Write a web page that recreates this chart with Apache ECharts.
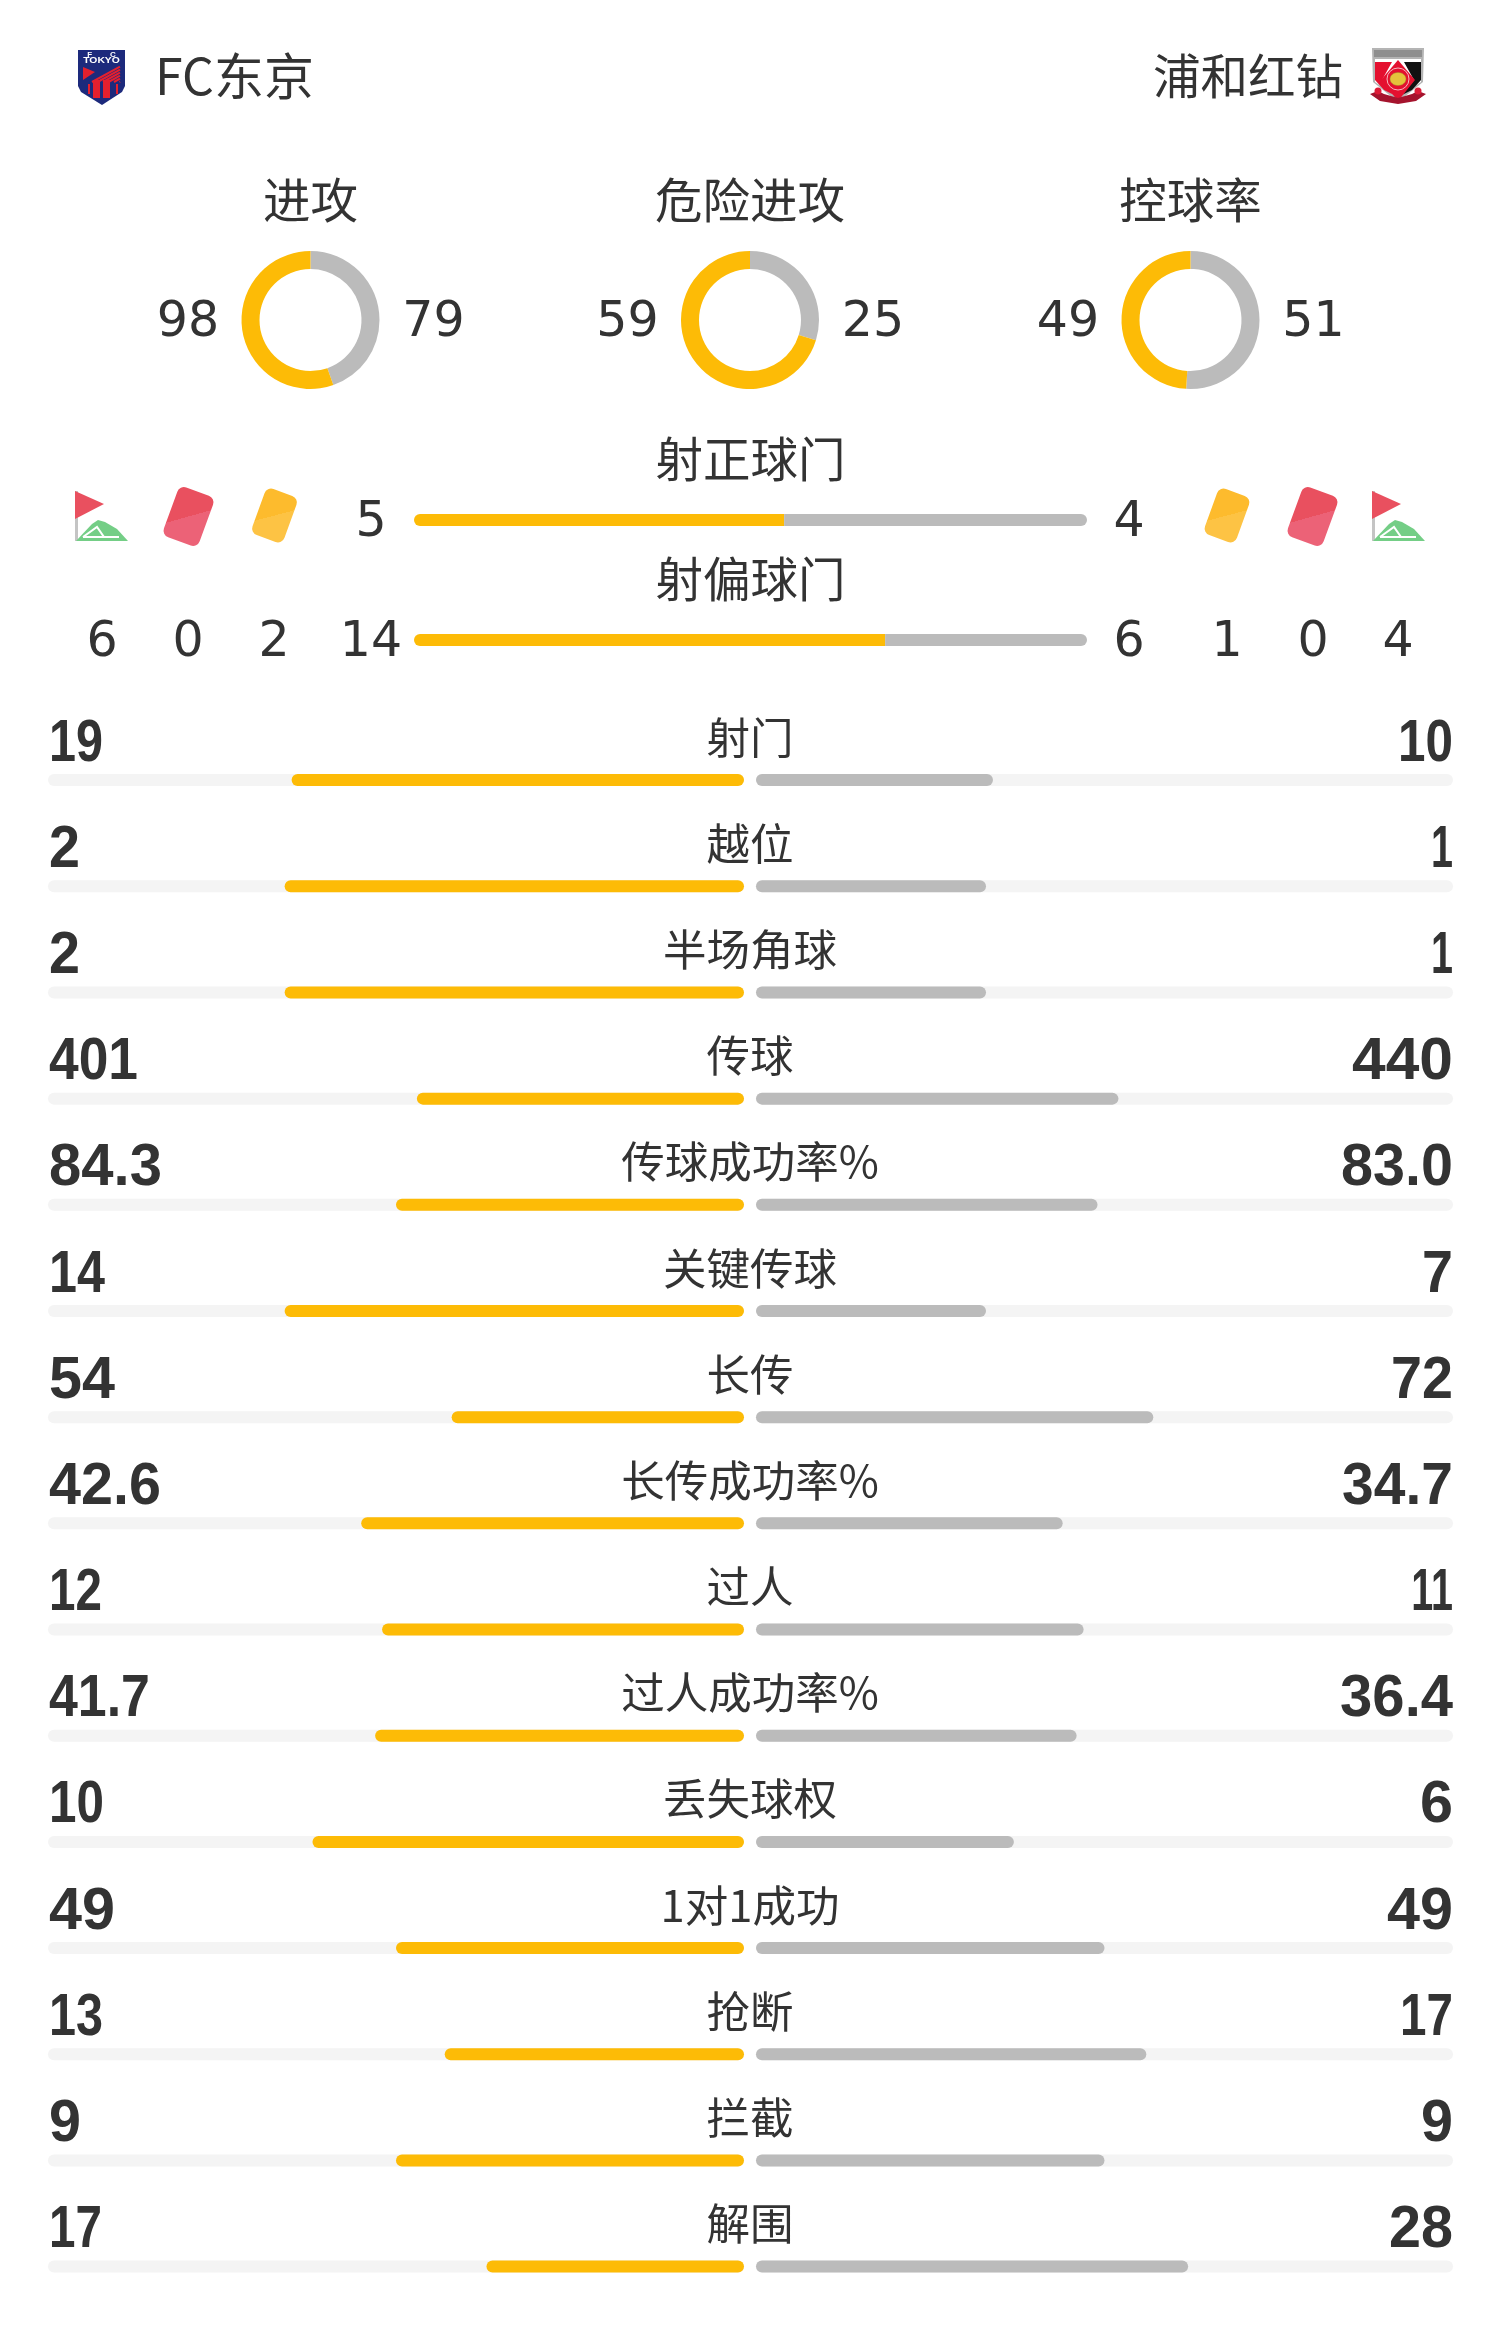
<!DOCTYPE html>
<html><head><meta charset="utf-8">
<style>html,body{margin:0;padding:0;background:#fff}#c{width:1500px;height:2350px}</style>
<script src="https://cdn.jsdelivr.net/npm/echarts@6/dist/echarts.min.js"></script>
</head><body><div id="c"></div>
<script>
const homeTeam = 'FC东京';
const awayTeam = '浦和红钻';
const donutNames = ['进攻', '危险进攻', '控球率'];
const donutHome = [98, 59, 49];
const donutAway = [79, 25, 51];
const shotNames = ['射正球门', '射偏球门'];
const shotHome = [5, 14];
const shotAway = [4, 6];
const cornersRow = { home: [6, 0, 2], away: [1, 0, 4] };
const rowNames = ['射门','越位','半场角球','传球','传球成功率%','关键传球','长传','长传成功率%','过人','过人成功率%','丢失球权','1对1成功','抢断','拦截','解围'];
const homeVals = ['19','2','2','401','84.3','14','54','42.6','12','41.7','10','49','13','9','17'];
const awayVals = ['10','1','1','440','83.0','7','72','34.7','11','36.4','6','49','17','9','28'];

const GOLD = '#FDBB06', GRAY = '#BBBBBB', TRACK = '#F4F4F4', INK = '#333333';
const CJK = '"Noto Sans CJK SC","Noto Sans",sans-serif';
const NUM = '"DejaVu Sans",sans-serif';
const BOLDNUM = '"Liberation Sans",sans-serif';
// bar length: whole percent of the track, rounded down
const share = (a, b) => Math.floor(100 * Number(a) / (Number(a) + Number(b))) / 100;
// condensed look for the big numbers: target glyph widths against the font's own widths at 60px
const glyphTarget = { '1': 22, '2': 31, '3': 32, '4': 34, '5': 32, '6': 33, '7': 31, '8': 33, '9': 32, '0': 33, '.': 14 };
const condense = (s) => {
  let target = 0, natural = 0;
  for (const c of s) { target += glyphTarget[c]; natural += c === '.' ? 16.7 : 33.4; }
  return target / natural;
};

const donutX = [310.5, 750, 1190.5];
const graphic = [];
function txt(x, y, text, size, align, family, weight) {
  graphic.push({ type: 'text', x, y, silent: true, style: {
    text: String(text), fill: INK, align: align || 'center', verticalAlign: 'middle',
    font: (weight || 'normal') + ' ' + size + 'px ' + (family || CJK) } });
}
function poly(points, fill, ox, oy) {
  graphic.push({ type: 'polygon', silent: true, x: ox || 0, y: oy || 0, shape: { points }, style: { fill } });
}
function card(cx, cy, w, h, c1, c2) {
  graphic.push({ type: 'rect', silent: true, x: cx, y: cy, rotation: -20 * Math.PI / 180,
    shape: { x: -w / 2, y: -h / 2, width: w, height: h, r: 7 },
    style: { fill: new echarts.graphic.LinearGradient(0, 0, 1, 1, [
      { offset: 0, color: c1 }, { offset: .5, color: c1 }, { offset: .5, color: c2 }, { offset: 1, color: c2 }]) } });
}
function flag(x) {
  graphic.push({ type: 'rect', silent: true, shape: { x: x, y: 491, width: 3, height: 50 }, style: { fill: '#C4C4C4' } });
  poly([[0,0],[29,13],[0,28]], '#E9505F', x, 491);
  poly([[1,50],[17,33],[23,29],[30,31],[42,38],[53,50]], '#74CE86', x, 491);
  graphic.push({ type: 'polyline', silent: true, x: x, y: 491, shape: { points: [[8,46],[22,36],[29,46],[44,46]] },
    style: { stroke: '#fff', lineWidth: 2, fill: null } });
  graphic.push({ type: 'line', silent: true, x: x, y: 491, shape: { x1: 8, y1: 46, x2: 29, y2: 46 }, style: { stroke: '#fff', lineWidth: 2 } });
}
function tokyoBadge() {
  const x = 78, y = 50;
  poly([[0,0],[47,0],[47,36],[44,42],[24,55],[3,42],[0,36]], '#1D2A7C', x, y);
  for (let i = 0; i < 6; i++) {
    const sx = 14 + i * 5.5;
    graphic.push({ type: 'line', silent: true, x, y, shape: { x1: sx, y1: 32, x2: 42, y2: 32 - (42 - sx) * .55 }, style: { stroke: '#E4202E', lineWidth: 2 } });
  }
  poly([[5,17],[17,22],[5,30]], '#E4202E', x, y);
  [[15,30,48,7],[25,30,48,7],[10,34,44,2],[38,34,44,2]].forEach(b => poly([[b[0],b[1]],[b[0]+b[3],b[1]],[b[0]+b[3],b[2]],[b[0],b[2]]], '#E4202E', x, y));
  graphic.push({ type: 'text', silent: true, x: x + 23.5, y: y + 4.5, style: { text: 'F        C', fill: '#fff', align: 'center', verticalAlign: 'middle', font: 'bold 8px "Liberation Sans"' } });
  graphic.push({ type: 'text', silent: true, x: x + 23.5, y: y + 11, scaleX: 1.15, style: { text: 'TOKYO', fill: '#fff', align: 'center', verticalAlign: 'middle', font: 'bold 9px "Liberation Sans"' } });
}
function urawaBadge() {
  const x = 1370, y = 48;
  poly([[2,0],[54,0],[53,34],[28,54],[3,34]], '#B4B4B4', x, y);
  poly([[4,2],[52,2],[52,9],[4,9]], '#8F8F8F', x, y);
  poly([[5,11],[51,11],[51,34],[28,50],[5,34]], '#FFFFFF', x, y);
  poly([[5,14],[22,14],[12,32],[24,47],[14,42],[5,32]], '#E4102F', x, y);
  poly([[34,14],[51,14],[51,32],[42,42],[32,47],[44,32]], '#111111', x, y);
  poly([[28,12],[45,32],[28,53],[11,32]], '#E4102F', x, y);
  graphic.push({ type: 'circle', silent: true, x: x + 28, y: y + 31, shape: { r: 11 }, style: { fill: null, stroke: '#F5B7C0', lineWidth: 1 } });
  graphic.push({ type: 'ellipse', silent: true, x: x + 28, y: y + 31, shape: { cx: 0, cy: 0, rx: 8, ry: 6.5 }, style: { fill: '#E5C23C', stroke: '#A38A2C', lineWidth: .5 } });
  poly([[0,46],[8,43],[14,46],[28,50],[42,46],[48,43],[56,46],[46,53],[28,56],[10,53]], '#A5132D', x, y);
  graphic.push({ type: 'circle', silent: true, x: x + 8, y: y + 43, shape: { r: 3.5 }, style: { fill: '#DD1B37' } });
  graphic.push({ type: 'circle', silent: true, x: x + 48, y: y + 43, shape: { r: 3.5 }, style: { fill: '#DD1B37' } });
}
tokyoBadge();
urawaBadge();
txt(155, 76, homeTeam, 50, 'left');
txt(1343, 76, awayTeam, 47.5, 'right');
donutNames.forEach((n, i) => {
  txt(donutX[i], 200, n, 47.5);
  txt(donutX[i] - 122.5, 323, donutHome[i], 49, 'center', NUM);
  txt(donutX[i] + 123, 323, donutAway[i], 49, 'center', NUM);
});
flag(75); flag(1372);
card(188.5, 516.5, 38, 53, '#E9505F', '#EC6277');
card(1312.5, 516.5, 38, 53, '#E9505F', '#EC6277');
card(274.5, 515.5, 34, 49, '#FDBB2D', '#FDC344');
card(1227, 515.5, 34, 49, '#FDBB2D', '#FDC344');
[102, 188, 274].forEach((x, i) => txt(x, 643.5, cornersRow.home[i], 49, 'center', NUM));
[1227, 1313, 1398].forEach((x, i) => txt(x, 643.5, cornersRow.away[i], 49, 'center', NUM));

const series = [];
donutNames.forEach((n, i) => series.push({
  type: 'pie', silent: true, center: [donutX[i], 320], radius: [51, 69], startAngle: 90, clockwise: true,
  label: { show: false }, labelLine: { show: false }, emphasis: { disabled: true },
  data: [{ value: donutAway[i], itemStyle: { color: GRAY } }, { value: donutHome[i], itemStyle: { color: GOLD } }]
}));
// shot bars (grid 0): gold part + grey remainder
series.push({ type: 'bar', xAxisIndex: 0, yAxisIndex: 0, stack: 's', barWidth: 12, silent: true,
  itemStyle: { color: GOLD, borderRadius: [6, 0, 0, 6] }, data: shotHome.map((v, i) => share(v, shotAway[i])) });
series.push({ type: 'bar', xAxisIndex: 0, yAxisIndex: 0, stack: 's', barWidth: 12, silent: true,
  itemStyle: { color: GRAY, borderRadius: [0, 6, 6, 0] }, data: shotHome.map((v, i) => 1 - share(v, shotAway[i])) });
const ghost = (xi, yi, data, label) => ({
  type: 'scatter', xAxisIndex: xi, yAxisIndex: yi, symbolSize: 1, silent: true, z: 5,
  itemStyle: { color: 'rgba(0,0,0,0)', opacity: 1 }, data,
  label: Object.assign({ show: true, position: 'inside', color: INK, verticalAlign: 'middle' }, label)
});
series.push(ghost(0, 0, shotNames.map((n, i) => ({ value: [.5, i], label: { formatter: n } })),
  { fontFamily: CJK, fontSize: 47.5, align: 'center', offset: [0, -61] }));
series.push(ghost(0, 0, shotHome.map((v, i) => ({ value: [0, i], label: { formatter: String(v) } })),
  { fontFamily: NUM, fontSize: 49, align: 'center', offset: [-43, 3.5] }));
series.push(ghost(0, 0, shotAway.map((v, i) => ({ value: [1, i], label: { formatter: String(v) } })),
  { fontFamily: NUM, fontSize: 49, align: 'center', offset: [42, 3.5] }));
// stat rows: left grid 1, right grid 2
series.push({ type: 'bar', xAxisIndex: 1, yAxisIndex: 1, barWidth: 12, silent: true,
  showBackground: true, backgroundStyle: { color: TRACK, borderRadius: 6 },
  itemStyle: { color: GOLD, borderRadius: 6 }, data: homeVals.map((v, i) => share(v, awayVals[i])) });
series.push({ type: 'bar', xAxisIndex: 2, yAxisIndex: 2, barWidth: 12, silent: true,
  showBackground: true, backgroundStyle: { color: TRACK, borderRadius: 6 },
  itemStyle: { color: GRAY, borderRadius: 6 }, data: awayVals.map((v, i) => share(v, homeVals[i])) });
series.push(ghost(1, 1, rowNames.map((n, i) => ({ value: [0, i], label: { formatter: n } })),
  { fontFamily: CJK, fontSize: 43.5, align: 'center', offset: [6, -43] }));
// big condensed row numbers: custom text through the axis scales
const bigNumbers = (xi, yi, vals, align, dx) => ({
  type: 'custom', xAxisIndex: xi, yAxisIndex: yi, silent: true, z: 6,
  data: vals.map((v, i) => [1, i]), encode: { x: 0, y: 1 },
  renderItem: (params, api) => {
    const p = api.coord([api.value(0), api.value(1)]);
    const s = vals[params.dataIndex];
    return { type: 'text', x: p[0] + dx, y: p[1] - 36, scaleX: condense(s), silent: true, style: {
      text: s, fill: INK, align, verticalAlign: 'middle', font: 'bold 60px ' + BOLDNUM } };
  }
});
series.push(bigNumbers(1, 1, homeVals, 'left', 1));
series.push(bigNumbers(2, 2, awayVals, 'right', 0));

const hiddenX = (o) => Object.assign({ type: 'value', min: 0, max: 1, show: false }, o);
const hiddenY = (gi, data) => ({ type: 'category', gridIndex: gi, inverse: true, data, show: false });
const chart = echarts.init(document.getElementById('c'), null, { renderer: 'canvas' });
chart.setOption({
  animation: false, backgroundColor: '#fff', tooltip: { show: false },
  textStyle: { fontFamily: CJK },
  grid: [
    { left: 414, width: 673, top: 460, height: 240 },
    { left: 48, width: 696, top: 727, height: 1592.7 },
    { left: 756, width: 697, top: 727, height: 1592.7 }
  ],
  xAxis: [
    hiddenX({ gridIndex: 0 }),
    hiddenX({ gridIndex: 1, inverse: true }),
    hiddenX({ gridIndex: 2 })
  ],
  yAxis: [hiddenY(0, shotNames), hiddenY(1, rowNames), hiddenY(2, rowNames)],
  series, graphic
});
</script></body></html>
